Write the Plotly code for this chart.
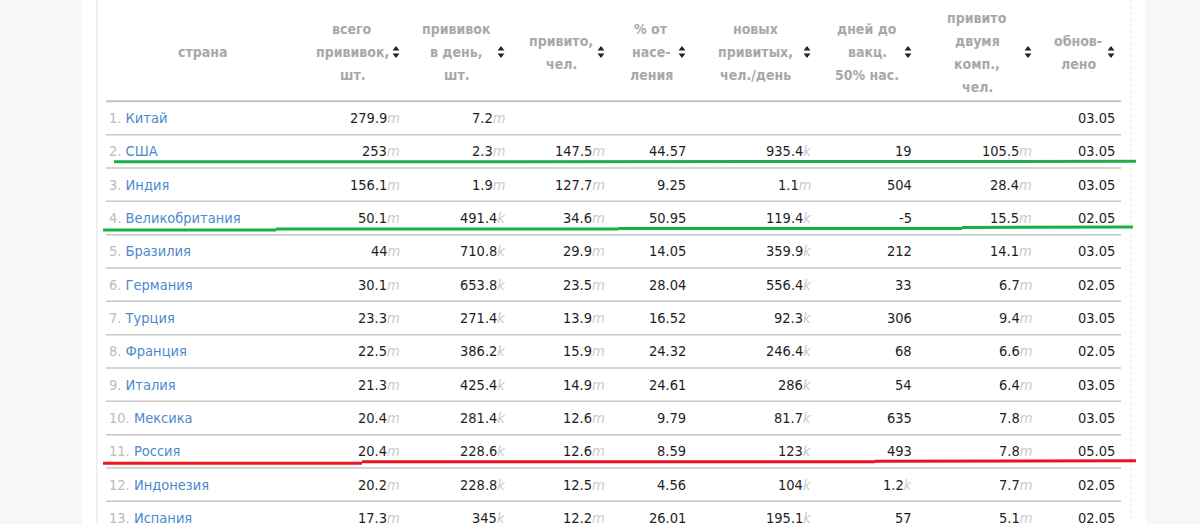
import plotly.graph_objects as go

countries = ["Китай", "США", "Индия", "Великобритания", "Бразилия", "Германия",
             "Турция", "Франция", "Италия", "Мексика", "Россия", "Индонезия", "Испания"]
total = ["279.9m", "253m", "156.1m", "50.1m", "44m", "30.1m", "23.3m",
         "22.5m", "21.3m", "20.4m", "20.4m", "20.2m", "17.3m"]
per_day = ["7.2m", "2.3m", "1.9m", "491.4k", "710.8k", "653.8k", "271.4k",
           "386.2k", "425.4k", "281.4k", "228.6k", "228.8k", "345k"]
vaccinated = ["", "147.5m", "127.7m", "34.6m", "29.9m", "23.5m", "13.9m",
              "15.9m", "14.9m", "12.6m", "12.6m", "12.5m", "12.2m"]
pct = ["", "44.57", "9.25", "50.95", "14.05", "28.04", "16.52",
       "24.32", "24.61", "9.79", "8.59", "4.56", "26.01"]
new_per_day = ["", "935.4k", "1.1m", "119.4k", "359.9k", "556.4k", "92.3k",
               "246.4k", "286k", "81.7k", "123k", "104k", "195.1k"]
days50 = ["", "19", "504", "-5", "212", "33", "306", "68", "54", "635", "493", "1.2k", "57"]
two_doses = ["", "105.5m", "28.4m", "15.5m", "14.1m", "6.7m", "9.4m",
             "6.6m", "6.4m", "7.8m", "7.8m", "7.7m", "5.1m"]
updated = ["03.05", "03.05", "03.05", "02.05", "03.05", "02.05", "03.05",
           "02.05", "03.05", "03.05", "05.05", "02.05", "02.05"]

headers = [
    ["всего", "прививок,", "шт."],
    ["прививок", "в день,", "шт."],
    ["привито,", "чел."],
    ["% от", "насе-", "ления"],
    ["новых", "привитых,", "чел./день"],
    ["дней до", "вакц.", "50% нас."],
    ["привито", "двумя", "комп.,", "чел."],
    ["обнов-", "лено"],
]
green_rows = [1, 3]
red_rows = [10]

columns = [total, per_day, vaccinated, pct, new_per_day, days50, two_doses, updated]

# layout (pixels)
W, H = 1200, 524
ROW0, ROW_H = 118, 33.33
HEAD_Y, HEAD_LH = 52, 23
right_edges = [402, 507, 607, 688, 813, 914, 1034, 1117]
head_centers = [352, 456, 561, 651, 755, 867, 977, 1078]
X0, X1 = 106, 1121

FONT = "DejaVu Sans Condensed, DejaVu Sans, sans-serif"
HEAD_FONT = "DejaVu Sans Condensed, DejaVu Sans, sans-serif"
BLUE = "#4a89cc"
GREY = "#bcbcbc"
SUFFIX = "#c9c9c9"
HEAD = "#a8a8a8"

def row_y(i):
    return ROW0 + i * ROW_H

def fmt(v):
    if v and v[-1] in "mk":
        return v[:-1] + "<span style='color:%s'><i>%s</i></span>" % (SUFFIX, v[-1])
    return v

fig = go.Figure()
shapes = []
ann = []

# page panel
shapes.append(dict(type="rect", xref="x", yref="y", x0=82, x1=1146, y0=0, y1=H,
                   fillcolor="white", line_width=0, layer="below"))
shapes.append(dict(type="line", xref="x", yref="y", x0=97, x1=97, y0=0, y1=H,
                   line=dict(color="#e2e2e2", width=1)))
shapes.append(dict(type="line", xref="x", yref="y", x0=1131, x1=1131, y0=0, y1=H,
                   line=dict(color="#e6e6e6", width=1, dash="dot")))

# header
ann.append(dict(x=202, y=HEAD_Y, text="<b>страна</b>", xanchor="center", yanchor="middle",
                font=dict(family=HEAD_FONT, size=14, color=HEAD)))
for c, lines in enumerate(headers):
    n = len(lines)
    for k, t in enumerate(lines):
        ann.append(dict(x=head_centers[c], y=HEAD_Y + (k - (n - 1) / 2) * HEAD_LH,
                        text="<b>%s</b>" % t, xanchor="center", yanchor="middle",
                        font=dict(family=HEAD_FONT, size=14, color=HEAD)))

arrow_x = [r - 6 for r in right_edges]
fig.add_trace(go.Scatter(x=arrow_x, y=[HEAD_Y - 3] * len(arrow_x), mode="markers",
                         marker=dict(symbol="triangle-up", size=6, color="#222"),
                         hoverinfo="skip", showlegend=False))
fig.add_trace(go.Scatter(x=arrow_x, y=[HEAD_Y + 3] * len(arrow_x), mode="markers",
                         marker=dict(symbol="triangle-down", size=6, color="#222"),
                         hoverinfo="skip", showlegend=False))

shapes.append(dict(type="line", xref="x", yref="y", x0=X0, x1=X1,
                   y0=row_y(-0.5), y1=row_y(-0.5), line=dict(color="#c4c4c4", width=2)))

# rows
for i, name in enumerate(countries):
    y = row_y(i)
    ann.append(dict(x=107, y=y, xanchor="left", yanchor="middle",
                    text="<span style='color:%s'>%d.</span> %s" % (GREY, i + 1, name),
                    font=dict(family=FONT, size=14.5, color=BLUE)))
    for c, col in enumerate(columns):
        if col[i]:
            ann.append(dict(x=right_edges[c], y=y, xanchor="right", yanchor="middle",
                            text=fmt(col[i]), font=dict(family=FONT, size=14.5, color="#1e1e1e")))
    if i < len(countries) - 1:
        shapes.append(dict(type="line", xref="x", yref="y", x0=X0, x1=X1,
                           y0=row_y(i + 0.5), y1=row_y(i + 0.5),
                           line=dict(color="#c6c6c6", width=1.5)))

# hand-drawn highlights
def underline(i, segs, color):
    for xa, xb, da, db in segs:
        shapes.append(dict(type="line", xref="x", yref="y", x0=xa, x1=xb,
                           y0=row_y(i) + da, y1=row_y(i) + db,
                           line=dict(color=color, width=3)))

underline(green_rows[0], [(114, 1136, 10.5, 10)], "#1fae45")
underline(green_rows[1], [(103, 276, 12, 12), (276, 618, 11, 11),
                          (618, 962, 10.5, 10.5), (962, 1133, 9.5, 9)], "#1fae45")
underline(red_rows[0], [(103, 362, 12, 12), (362, 875, 10.5, 10.5),
                        (875, 1136, 10, 9.5)], "#e8141f")

for a in ann:
    a.update(xref="x", yref="y", showarrow=False)

fig.update_layout(
    width=W, height=H, margin=dict(l=0, r=0, t=0, b=0),
    paper_bgcolor="#f7f7f7", plot_bgcolor="rgba(0,0,0,0)",
    xaxis=dict(range=[0, W], visible=False, fixedrange=True),
    yaxis=dict(range=[H, 0], visible=False, fixedrange=True),
    shapes=shapes, annotations=ann, showlegend=False,
)
fig.write_html("out.html", config={"displayModeBar": False},
               post_script="document.body.style.margin='0';document.body.style.overflow='hidden';")
